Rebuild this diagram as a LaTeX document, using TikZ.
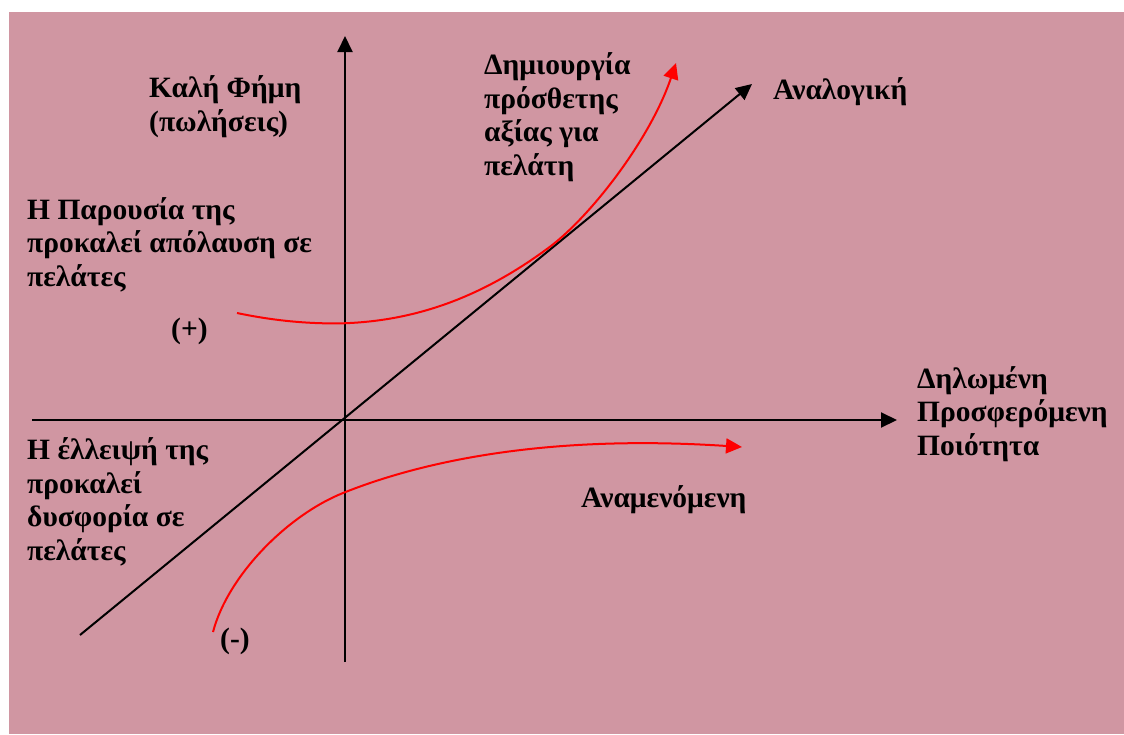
\documentclass[tikz,border=0pt]{standalone}
\usepackage{fontspec}
\setmainfont{Liberation Serif}
\usetikzlibrary{arrows.meta}
\definecolor{bgpink}{RGB}{208,150,162}

\begin{document}
\begin{tikzpicture}[x=1pt,y=-1pt,
  lbl/.style={font=\bfseries\fontsize{29.5}{33.5}\selectfont,align=left,inner sep=0pt,anchor=base west},
  axis/.style={-{Triangle[length=16pt,width=15pt]},line width=2pt},
  curve/.style={-{Triangle[length=16pt,width=15pt]},line width=2pt,red}]
\useasboundingbox[fill=white] (0,0) rectangle (1124,734);
\fill[bgpink] (9,12) rectangle (1124,734);
% axes
\coordinate (ybot) at (345,662); \coordinate (ytop) at (345,36);
\coordinate (xlft) at (32,420);  \coordinate (xrgt) at (897,420);
\coordinate (dlft) at (80,635);  \coordinate (drgt) at (752,84);
\draw[axis] (ybot) -- (ytop);
\draw[axis] (xlft) -- (xrgt);
\draw[axis] (dlft) -- (drgt);
% curves
\coordinate (ua) at (237,313); \coordinate (ub) at (343,323.3);
\coordinate (uc) at (550,246.7); \coordinate (ud) at (676,63);
\coordinate (la) at (213,632); \coordinate (lb) at (343,493);
\coordinate (lc) at (742,447);
\draw[curve] (ua) .. controls (275,321) and (310,324) .. (ub)
  .. controls (413,321) and (480,299) .. (uc)
  .. controls (590,216.7) and (650,140) .. (ud);
\draw[curve] (la) .. controls (228,575) and (288,515) .. (lb)
  .. controls (433,457) and (560,435) .. (lc);
% labels (anchored at the last line)
\node[lbl] (fame) at (149,131) {Καλή Φήμη\\(πωλήσεις)};
\node[lbl] (value) at (484,175) {Δημιουργία\\πρόσθετης\\αξίας για\\πελάτη};
\node[lbl] (prop) at (773,99) {Αναλογική};
\node[lbl] (pres) at (27,286) {Η Παρουσία της\\προκαλεί απόλαυση σε\\πελάτες};
\node[lbl] (plus) at (171,338) {(+)};
\node[lbl] (qual) at (917,455) {Δηλωμένη\\Προσφερόμενη\\Ποιότητα};
\node[lbl] (abs) at (27,560) {Η έλλειψή της\\προκαλεί\\δυσφορία σε\\πελάτες};
\node[lbl] (exp) at (581,507) {Αναμενόμενη};
\node[lbl] (minus) at (220,648) {(-)};
\end{tikzpicture}
\end{document}
